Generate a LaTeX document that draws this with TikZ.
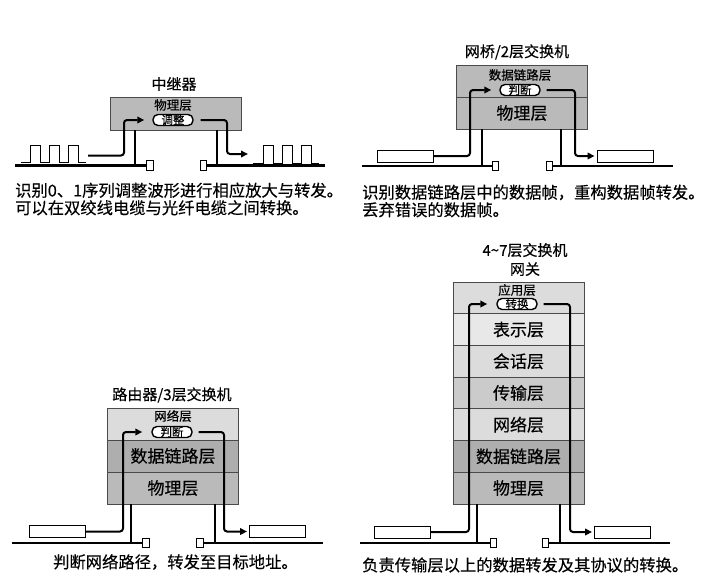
\documentclass[tikz,border=0pt]{standalone}
\usepackage{fontspec}
\setmainfont{Noto Sans CJK SC}[FakeBold=0.35]
\usetikzlibrary{arrows.meta, calc}
\definecolor{lyrdark}{HTML}{AEAEAE}
\definecolor{lyrmid}{HTML}{BABABA}
\definecolor{lyrgray}{HTML}{CBCBCB}
\definecolor{lyrlight}{HTML}{DCDCDC}
\definecolor{lyrpale}{HTML}{E8E8E8}
\definecolor{edge}{HTML}{4A4A4A}

\begin{document}
\begin{tikzpicture}[x=1pt, y=-1pt, >={Triangle[length=7pt,width=6.5pt]},
  lyr/.style={draw=edge, line width=0.8pt, inner sep=0pt, minimum width=131pt, font=\fontsize{17}{17}\selectfont},
  tag/.style={inner sep=0pt, font=\fontsize{12.5}{12.5}\selectfont},
  pill/.style={draw, fill=white, line width=1.4pt, rounded corners=5pt, minimum width=40pt, minimum height=11pt, inner sep=0pt, font=\fontsize{11.5}{11.5}\selectfont},
  head/.style={inner sep=0pt, align=center, font=\fontsize{15}{19}\selectfont},
  desc/.style={inner sep=0pt, anchor=west, align=left, font=\fontsize{16.3}{17.5}\selectfont},
  framebox/.style={draw, fill=white, line width=0.9pt, minimum width=56pt, minimum height=12pt, inner sep=0pt},
  port/.style={draw, fill=white, line width=1.4pt, minimum width=6.5pt, minimum height=9.5pt, inner sep=0pt},
  bus/.style={line width=2.6pt},
  stub/.style={line width=2pt},
  wave/.style={line width=1pt},
  flow/.style={->, line width=2pt, rounded corners=3pt}]
  \useasboundingbox (0,0) rectangle (705,582);

  % 中继器
  \node[head] (repT) at (174,84) {中继器};
  \node[lyr, fill=lyrmid, minimum height=33pt] (rep) at (175.5,113.5) {};
  \node[tag] (repL) at (173,105) {物理层};
  \node[pill] (repP) at (173,120) {调整};
  \draw[wave] (21,162) \foreach \x in {30,49,68} { -- (\x,162) -- (\x,145) -- ({\x+10},145) -- ({\x+10},162) } -- (86,162);
  \draw[wave] (253,163) \foreach \x in {263,282,301} { -- (\x,163) -- (\x,145) -- ({\x+10},145) -- ({\x+10},163) } -- (319,163);
  \coordinate (waveL) at (88,155.5);
  \coordinate (waveR) at (248,154);
  \coordinate (repB1) at (124,140);
  \coordinate (repB2) at (227,140);
  \coordinate (repS1) at (135,165.5);
  \coordinate (repS2) at (217,165.5);
  \draw[stub] (repS1 |- rep.south) -- (repS1);
  \draw[stub] (repS2 |- rep.south) -- (repS2);
  \draw[bus] (15,165.5) -- (150,165.5);
  \draw[bus] (203.5,165.5) -- (325,165.5);
  \node[port] (repQ1) at (150,165.5) {};
  \node[port] (repQ2) at (203.5,165.5) {};
  \draw[flow] (waveL) -| (repB1) |- ([xshift=-8pt]repP.west);
  \draw[flow] ([xshift=7pt]repP.east) -| (repB2) |- (waveR);
  \node[desc] (repC) at (15,199) {识别0、1序列调整波形进行相应放大与转发。\\可以在双绞线电缆与光纤电缆之间转换。};

  % 网桥/2层交换机
  \node[head] (brT) at (517,52) {网桥/2层交换机};
  \node[lyr, fill=lyrmid, minimum height=32pt] (brD) at (522,81) {};
  \node[lyr, fill=lyrmid, minimum height=32pt] (brP) at (522,113) {物理层};
  \node[tag] (brL) at (520,75) {数据链路层};
  \node[pill] (brJ) at (520,90) {判断};
  \node[framebox] (brF1) at (405.5,156) {};
  \node[framebox] (brF2) at (625,156) {};
  \coordinate (brB1) at (470,120);
  \coordinate (brB2) at (575,120);
  \coordinate (brS1) at (482,166);
  \coordinate (brS2) at (561,166);
  \draw[stub] (brS1 |- brP.south) -- (brS1);
  \draw[stub] (brS2 |- brP.south) -- (brS2);
  \draw[bus] (362,166) -- (495.5,166);
  \draw[bus] (549.5,166) -- (673,166);
  \node[port] (brQ1) at (495.5,166) {};
  \node[port] (brQ2) at (549.5,166) {};
  \draw[flow] (brF1.east) -| (brB1) |- ([xshift=-8pt]brJ.west);
  \draw[flow] ([xshift=6pt]brJ.east) -| (brB2) |- ([xshift=-2pt]brF2.west);
  \node[desc] (brC) at (362,201) {识别数据链路层中的数据帧，重构数据帧转发。\\丢弃错误的数据帧。};

  % 路由器/3层交换机
  \node[head] (rtT) at (172,395) {路由器/3层交换机};
  \node[lyr, fill=lyrlight, minimum height=32pt] (rtN) at (173,424) {};
  \node[lyr, fill=lyrdark, minimum height=32pt] (rtD) at (173,456) {数据链路层};
  \node[lyr, fill=lyrmid, minimum height=32pt] (rtP) at (173,488) {物理层};
  \node[tag] (rtL) at (173,416) {网络层};
  \node[pill] (rtJ) at (172,432) {判断};
  \node[framebox] (rtF1) at (57,531.5) {};
  \node[framebox] (rtF2) at (277.5,531.5) {};
  \coordinate (rtB1) at (123,480);
  \coordinate (rtB2) at (224,480);
  \coordinate (rtS1) at (131,543);
  \coordinate (rtS2) at (215,543);
  \draw[stub] (rtS1 |- rtP.south) -- (rtS1);
  \draw[stub] (rtS2 |- rtP.south) -- (rtS2);
  \draw[bus] (12,543) -- (146,543);
  \draw[bus] (200,543) -- (323,543);
  \node[port] (rtQ1) at (146,543) {};
  \node[port] (rtQ2) at (200,543) {};
  \draw[flow] (rtF1.east) -| (rtB1) |- ([xshift=-9pt]rtJ.west);
  \draw[flow] ([xshift=6pt]rtJ.east) -| (rtB2) |- ([xshift=-2pt]rtF2.west);
  \node[desc] (rtC) at (53,562) {判断网络路径，转发至目标地址。};

  % 4~7层交换机 / 网关
  \node[head] (gwT) at (525,259.5) {4\textasciitilde 7层交换机\\网关};
  \foreach \txt/\clr [count=\i from 0] in {{}/lyrlight, 表示层/lyrpale, 会话层/lyrlight, 传输层/lyrgray, 网络层/lyrlight, 数据链路层/lyrdark, 物理层/lyrmid}
    \node[lyr, fill=\clr, minimum height=31.71pt] (gw\i) at (518.5,{297.86+31.71*\i}) {\txt};
  \node[tag] (gwL) at (517,290) {应用层};
  \node[pill] (gwJ) at (517,304) {转换};
  \node[framebox] (gwF1) at (402.5,532) {};
  \node[framebox] (gwF2) at (622.5,532) {};
  \coordinate (gwB1) at (469,420);
  \coordinate (gwB2) at (570,420);
  \coordinate (gwS1) at (477,543);
  \coordinate (gwS2) at (560,543);
  \draw[stub] (gwS1 |- gw6.south) -- (gwS1);
  \draw[stub] (gwS2 |- gw6.south) -- (gwS2);
  \draw[bus] (360,543) -- (493.5,543);
  \draw[bus] (545.5,543) -- (670,543);
  \node[port] (gwQ1) at (493.5,543) {};
  \node[port] (gwQ2) at (545.5,543) {};
  \draw[flow] (gwF1.east) -| (gwB1) |- ([xshift=-9pt]gwJ.west);
  \draw[flow] ([xshift=6pt]gwJ.east) -| (gwB2) |- ([xshift=-2pt]gwF2.west);
  \node[desc] (gwC) at (362,565) {负责传输层以上的数据转发及其协议的转换。};
\end{tikzpicture}
\end{document}
